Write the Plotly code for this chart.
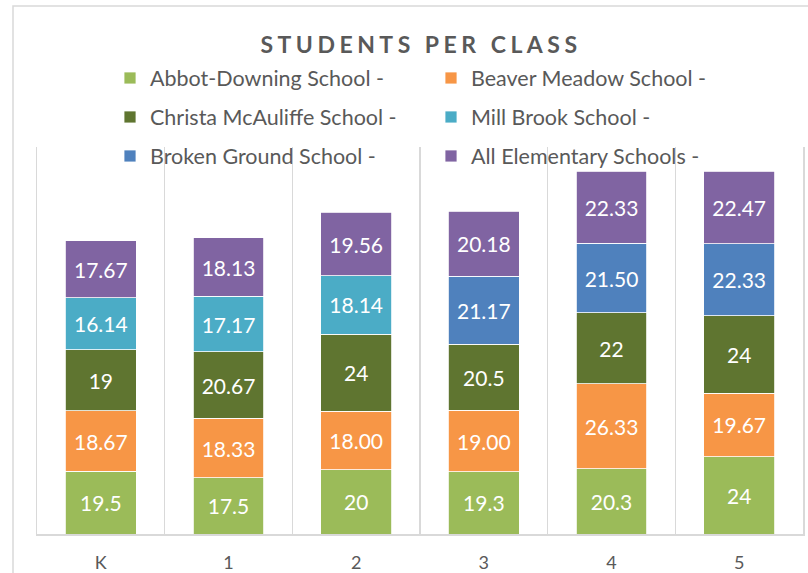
import plotly.graph_objects as go

grades = ["K", "1", "2", "3", "4", "5"]

abbot_downing = [19.5, 17.5, 20, 19.3, 20.3, 24]
beaver_meadow = [18.67, 18.33, 18.00, 19.00, 26.33, 19.67]
christa_mcauliffe = [19, 20.67, 24, 20.5, 22, 24]
mill_brook = [16.14, 17.17, 18.14, None, None, None]
broken_ground = [None, None, None, 21.17, 21.50, 22.33]
all_elementary = [17.67, 18.13, 19.56, 20.18, 22.33, 22.47]

series = [
    ("Abbot-Downing School -", abbot_downing, "#9BBB59", "g", "legend"),
    ("Beaver Meadow School -", beaver_meadow, "#F79646", ".2f", "legend"),
    ("Christa McAuliffe School -", christa_mcauliffe, "#5F7530", "g", "legend2"),
    ("Mill Brook School -", mill_brook, "#4BACC6", ".2f", "legend2"),
    ("Broken Ground School -", broken_ground, "#4F81BD", ".2f", "legend3"),
    ("All Elementary Schools -", all_elementary, "#8064A2", ".2f", "legend3"),
]

FONT = "Lato"
GRAY = "#595959"
GRID = "#D9D9D9"

fig = go.Figure()
for name, vals, color, fmt, leg in series:
    texts = [("" if v is None else format(v, fmt)) for v in vals]
    fig.add_trace(go.Bar(
        x=grades, y=vals, name=name,
        marker=dict(color=color, line=dict(color="white", width=0.8)),
        text=texts, textposition="inside", insidetextanchor="middle",
        textangle=0, constraintext="none",
        textfont=dict(family=FONT, size=21, color="white"),
        hoverinfo="skip", legend=leg,
    ))

W, H = 808, 573
ml, mr, mt, mb = 37, 5, 147, 39
pw, ph = W - ml - mr, H - mt - mb

def py(ypix):
    return (H - mb - ypix) / ph

def px(xpix):
    return (xpix - ml) / pw

legend_common = dict(
    orientation="h", xanchor="left", yanchor="middle",
    bgcolor="rgba(0,0,0,0)", borderwidth=0,
    font=dict(family=FONT, size=21.5, color=GRAY),
    entrywidth=276, entrywidthmode="pixels",
    traceorder="normal", itemclick=False, itemdoubleclick=False,
)

fig.update_layout(
    width=W, height=H,
    margin=dict(l=ml, r=mr, t=mt, b=mb, pad=0, autoexpand=False),
    paper_bgcolor="white", plot_bgcolor="white",
    barmode="stack", bargap=0.444,
    showlegend=True,
    title=dict(
        text='<span style="letter-spacing:4.5px">STUDENTS PER CLASS</span>',
        font=dict(family=FONT, size=23, color=GRAY, weight="bold"),
        x=px(421), xref="paper", xanchor="center",
        y=1 - 45 / H, yref="container", yanchor="middle",
    ),
    legend=dict(legend_common, x=px(110), y=py(78)),
    legend2=dict(legend_common, x=px(110), y=py(117)),
    legend3=dict(legend_common, x=px(110), y=py(156)),
    xaxis=dict(
        type="category", tickson="boundaries", ticks="",
        showgrid=True, gridcolor=GRID, gridwidth=1.5,
        showline=True, linecolor=GRID, linewidth=1.5,
        tickfont=dict(family=FONT, size=18, color=GRAY),
        ticklabelstandoff=12,
        range=[-0.5, 5.5], fixedrange=True,
    ),
    yaxis=dict(
        range=[0, 120], showgrid=False, showticklabels=False,
        zeroline=False, showline=True, mirror=True,
        linecolor=GRID, linewidth=1.5,
        ticks="", fixedrange=True,
    ),
    shapes=[dict(
        type="rect", xref="paper", yref="paper",
        x0=px(13), x1=1.2, y0=py(6), y1=-0.3,
        line=dict(color=GRID, width=1.5), layer="below",
    )],
)

fig.write_html(
    "out.html",
    config={"displayModeBar": False, "staticPlot": True},
    post_script="document.body.style.margin='0';document.body.style.overflow='hidden';",
)
